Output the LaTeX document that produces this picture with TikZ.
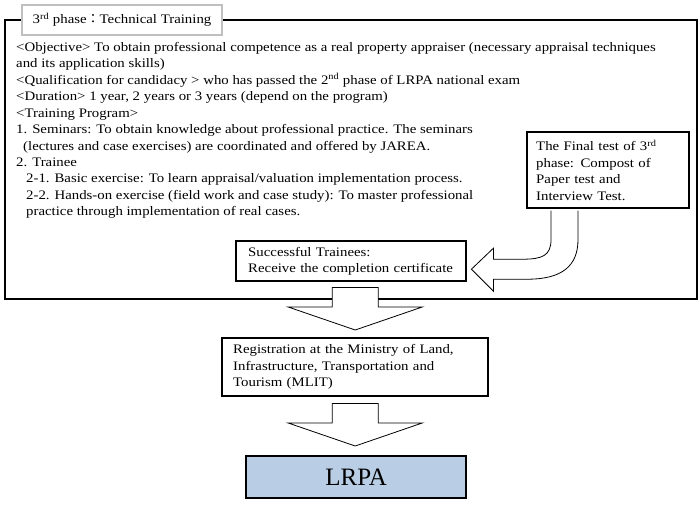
\documentclass[tikz,border=0pt]{standalone}
\usepackage{fontspec}
\setmainfont{Liberation Serif}[FakeStretch=1.14]
\newfontfamily\schmal{Liberation Serif}
\newfontfamily\cjk{Noto Sans CJK JP}
\usetikzlibrary{calc}
\definecolor{lrpablau}{RGB}{185,205,228}
\def\fs{\fontsize{13}{16.45}\selectfont}
\def\pfeil#1#2{
\draw[pfeil] ($(#1)+(-23,0)$) -- ($(#2)+(-23,-23)$) -- ($(#2)+(-67,-23)$)
	-- (#2) -- ($(#2)+(67,-23)$) -- ($(#2)+(23,-23)$) -- ($(#1)+(23,0)$) -- cycle;
}

\begin{document}
\begin{tikzpicture}[x=1pt,y=-1pt,
	kasten/.style={draw,line width=2.4pt,fill=white,align=left,font=\fs,
		inner ysep=0pt,anchor=north west},
	pfeil/.style={draw,line width=0.8pt,fill=white,line join=miter}]
\useasboundingbox (0,0) rectangle (700,506);
\draw[line width=2.4pt] (5,20) rectangle (697,299);
\node[draw=gray!50,line width=2.4pt,fill=white,minimum width=200pt,
	minimum height=30pt,font=\fs] (titel) at (122,20)
	{3\textsuperscript{rd} phase{\cjk ：}Technical Training};
\node[anchor=north west,align=left,font=\fs,inner sep=0pt] (text) at (16,42)
{<Objective> To obtain professional competence as a real property appraiser (necessary appraisal techniques\\
and its application skills)\\
<Qualification for candidacy > who has passed the 2\textsuperscript{nd} phase of LRPA national exam\\
<Duration> 1 year, 2 years or 3 years (depend on the program)\\
<Training Program>\\
1. Seminars: To obtain knowledge about professional practice. The seminars\\
\hspace*{7pt}(lectures and case exercises) are coordinated and offered by JAREA.\\
2. Trainee\\
\hspace*{10pt}2-1. Basic exercise: To learn appraisal/valuation implementation process.\\
\hspace*{10pt}2-2. Hands-on exercise (field work and case study): To master professional\\
\hspace*{10pt}practice through implementation of real cases.};
\node[kasten,text width=144pt,inner xsep=9pt,minimum height=76pt] (final) at (526,131)
	{The Final test of 3\textsuperscript{rd}\\ phase: Compost of\\ Paper test and\\ Interview Test.};
\node[kasten,text width=206pt,inner xsep=12pt,minimum height=40pt] (succ) at (235,240)
	{Successful Trainees:\\ Receive the completion certificate};
\node[kasten,text width=244pt,inner xsep=11pt,minimum height=58pt] (reg) at (221,337)
	{Registration at the Ministry of Land,\\ Infrastructure, Transportation and\\ Tourism (MLIT)};
\node[kasten,fill=lrpablau,align=center,minimum width=220pt,minimum height=42pt,
	font=\schmal\fontsize{25}{28}\selectfont] (lrpa) at (245,455) {LRPA};
% Pfeile
\coordinate (a) at ($(final.south west)+(25,1.2)$);
\coordinate (b) at ($(succ.east)+(4,8)$);
\draw[pfeil] (a) -- ($(a)+(0,29)$) .. controls ($(a)+(0,45)$) and ($(b)+(71,-10)$)
	.. ($(b)+(51,-10)$) -- ($(b)+(22,-10)$) -- ($(b)+(22,-21)$) -- (b)
	-- ($(b)+(22,22)$) -- ($(b)+(22,10)$) -- ($(b)+(56,10)$)
	.. controls ($(b)+(91,10)$) and ($(a)+(27,55)$) .. ($(a)+(27,29)$) -- ($(a)+(27,0)$);
\coordinate (p1) at ($(succ.south -| reg.north)+(0,5)$);
\coordinate (q1) at ($(reg.north)+(0,-7)$);
\pfeil{p1}{q1}
\coordinate (p2) at ($(reg.south)+(0,6)$);
\coordinate (q2) at ($(lrpa.north -| reg.south)+(0,-9)$);
\pfeil{p2}{q2}
\end{tikzpicture}
\end{document}
